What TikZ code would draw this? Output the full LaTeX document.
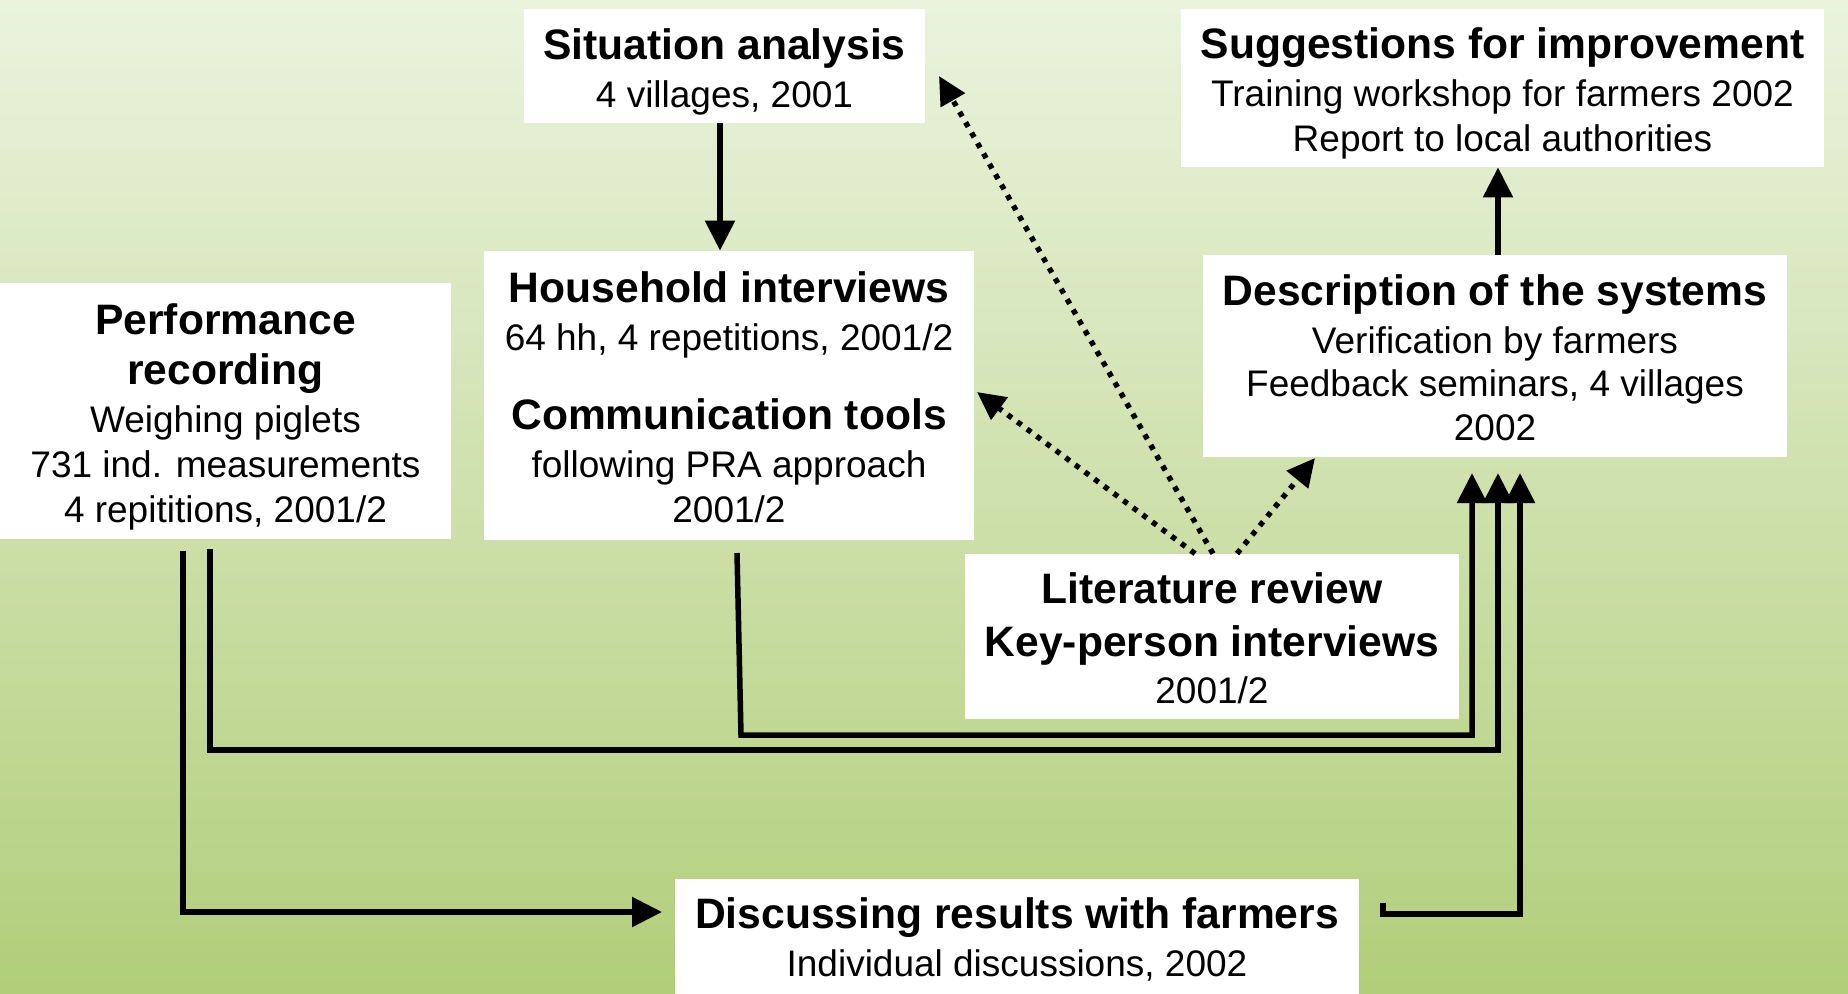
\documentclass[tikz,border=0pt]{standalone}
\usepackage{fontspec}
\setmainfont{Liberation Sans}
\usetikzlibrary{arrows.meta,calc}
\definecolor{bgtop}{HTML}{EBF3DE}
\definecolor{bgbot}{HTML}{B1CE7A}
\newcommand\rgfont{\fontsize{18.5}{22.4}\selectfont}
\newcommand\bd[1]{{\fontsize{21.3}{22.4}\selectfont\bfseries #1}}
\newcommand\topgap[1]{\rule{0pt}{#1}}
\tikzset{
  box/.style={fill=white, inner sep=0pt, align=center, font=\rgfont, text=black},
  arr/.style={line width=2.75pt, -{Triangle[length=15pt,width=14.5pt]}, line join=miter},
  dotarr/.style={line width=2.7pt, dash pattern=on 2.6pt off 3.4pt, -{Triangle[length=14pt,width=13.5pt]}},
}
\begin{document}
\begin{tikzpicture}[x=0.5pt,y=-0.5pt]
\useasboundingbox (0,0) rectangle (1848,993);
\fill[top color=bgtop, bottom color=bgbot] (0,0) rectangle (1848,993);
\begin{scope}
\clip (0,0) rectangle (1848,993);
% boxes
\node[box, minimum width=200.5pt, minimum height=57pt] (sit) at (724.5,66)
  {\topgap{21pt}\bd{Situation analysis}\\[1.6pt] 4 villages, 2001};
\node[box, minimum width=321.5pt, minimum height=79pt] (sug) at (1502.5,88)
  {\topgap{21pt}\bd{Suggestions for improvement}\\[1.6pt] Training workshop for farmers 2002\\ Report to local authorities};
\node[box, minimum width=245pt, minimum height=144.5pt] (hh) at (729,395.5)
  {\topgap{17pt}\bd{Household interviews}\\[1.6pt] 64 hh, 4 repetitions, 2001/2\\[17pt] \bd{Communication tools}\\[1.6pt] following PRA approach\\ 2001/2};
\node[box, minimum width=225.5pt, minimum height=128pt] (perf) at (225.5,411)
  {\topgap{21pt}\bd{Performance}\\[2.9pt] \bd{recording}\\[1.6pt] Weighing piglets\\ 731 ind. measurements\\ 4 repititions, 2001/2};
\node[box, minimum width=292pt, minimum height=101pt] (desc) at (1495,356)
  {\topgap{17pt}\bd{Description of the systems}\\[1.6pt] Verification by farmers\\[-0.6pt] Feedback seminars, 4 villages\\[-0.6pt] 2002};
\node[box, minimum width=247pt, minimum height=82.5pt] (lit) at (1212,636.5)
  {\topgap{17pt}\bd{Literature review}\\[4.1pt] \bd{Key-person interviews}\\[1.2pt] 2001/2};
\node[box, minimum width=342pt, minimum height=60.5pt] (disc) at (1017,939.5)
  {\bd{Discussing results with farmers}\\[1.2pt] Individual discussions, 2002};
\end{scope}
% helper coordinates
\coordinate (xa) at (720,0);
\coordinate (xb) at (1498,0);
\coordinate (tipSit) at (939,76);
\coordinate (tipCom) at (977,392);
\coordinate (tipDesc) at (1315,458);
\coordinate (hhStart) at (737,553);
\coordinate (hhBend) at (741,735);
\coordinate (tipA) at (1472,473);
\coordinate (perfStartB) at (210,549);
\coordinate (tipB) at (1498,473);
\coordinate (perfStartC) at (183,551);
\coordinate (discEndC) at (662,912);
\coordinate (discStart) at (1383,903);
\coordinate (tipD) at (1520,473);
% solid vertical arrows
\draw[arr] (sit.south -| xa) -- (hh.north -| xa);
\draw[arr] (desc.north -| xb) -- (sug.south -| xb);
% dotted arrows from literature review
\draw[dotarr] (lit.north -| 1213,0) -- (tipSit);
\draw[dotarr] (lit.north -| 1195,0) -- (tipCom);
\draw[dotarr] (lit.north -| 1237,0) -- (tipDesc);
% connectors into description
\draw[arr] (hhStart) -- (hhBend) -- (hhBend -| tipA) -- (tipA);
\draw[arr] (perfStartB) -- (perfStartB |- 0,750) -- (tipB |- 0,750) -- (tipB);
\draw[arr] (discStart) -- (discStart |- 0,914) -- (tipD |- 0,914) -- (tipD);
% performance to discussing
\draw[arr] (perfStartC) -- (perfStartC |- discEndC) -- (discEndC);
\end{tikzpicture}
\end{document}
